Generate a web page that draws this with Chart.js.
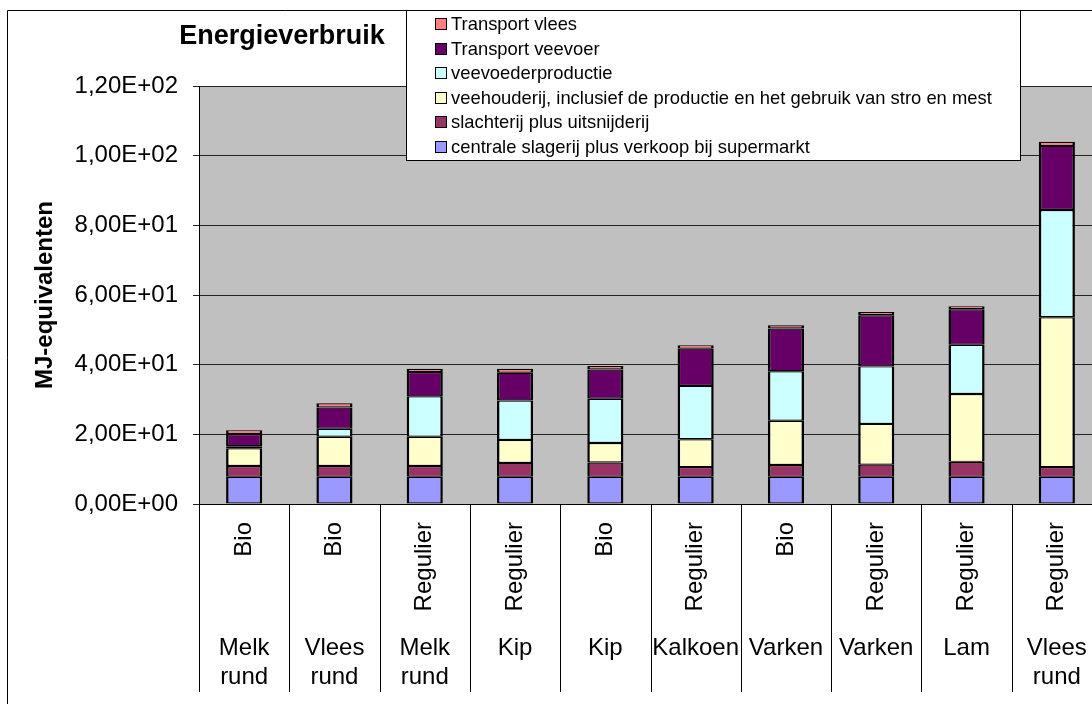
<!DOCTYPE html>
<html>
<head>
<meta charset="utf-8">
<script src="https://cdn.jsdelivr.net/npm/chart.js@4.4.0/dist/chart.umd.min.js"></script>
<style>
    html, body { margin: 0; padding: 0; background: #fff; overflow: hidden; }
    #energie { display: block; }
</style>
</head>
<body>
<canvas id="energie" width="1120" height="704"></canvas>
<script>
// categories (upper line rotated, lower line horizontal)
const types = ['Bio', 'Bio', 'Regulier', 'Regulier', 'Bio', 'Regulier', 'Bio', 'Regulier', 'Regulier', 'Regulier'];
const animals = [['Melk', 'rund'], ['Vlees', 'rund'], ['Melk', 'rund'], ['Kip'], ['Kip'], ['Kalkoen'], ['Varken'], ['Varken'], ['Lam'], ['Vlees', 'rund']];

// series, bottom to top (MJ-equivalenten)
const centraleSlagerij = [7.8, 7.8, 7.8, 7.8, 7.8, 7.8, 7.8, 7.8, 7.8, 7.8];
const slachterij = [3.1, 3.1, 3.1, 4.0, 4.1, 2.8, 3.4, 3.5, 4.3, 2.8];
const veehouderij = [5.1, 8.4, 8.4, 6.6, 5.6, 8.0, 12.7, 11.7, 19.5, 43.0];
const veevoederproductie = [0.6, 2.3, 11.6, 11.3, 12.7, 15.3, 14.2, 16.5, 14.1, 30.8];
const transportVeevoer = [3.5, 6.1, 7.0, 8.0, 8.4, 10.7, 12.3, 14.7, 10.2, 18.4];
const transportVlees = [1.1, 1.2, 0.9, 1.1, 1.0, 1.0, 0.9, 0.9, 0.9, 1.2];

// y axis ticks
const yMin = 0;
const yMax = 120;
const yStep = 20;

const FONT = "'Liberation Sans', Arial, sans-serif";

function formatSci(v) {
    if (v === 0) {
        return '0,00E+00';
    }
    let e = Math.floor(Math.log10(v) + 1e-9);
    let m = v / Math.pow(10, e);
    return m.toFixed(2).replace('.', ',') + 'E' + (e < 0 ? '-' : '+') + String(Math.abs(e)).padStart(2, '0');
}

function makeSet(label, data, color) {
    return {
        label: label,
        data: data,
        backgroundColor: color,
        borderColor: '#000',
        borderWidth: {top: 1.2, bottom: 1.2, left: 2.5, right: 2.5},
        borderSkipped: false,
        barPercentage: 0.4,
        categoryPercentage: 1
    };
}

const excelLook = {
    id: 'excelLook',
    beforeDraw(chart) {
        let ctx = chart.ctx;
        let a = chart.chartArea;
        ctx.save();
        ctx.fillStyle = '#fff';
        ctx.fillRect(0, 0, chart.width, chart.height);
        ctx.fillStyle = '#c0c0c0';
        ctx.fillRect(a.left, a.top, a.right - a.left, a.bottom - a.top);
        ctx.restore();
    },
    afterDraw(chart) {
        let ctx = chart.ctx;
        let a = chart.chartArea;
        let x = chart.scales.x;
        let n = chart.data.labels.length;
        let w = (a.right - a.left) / n;
        ctx.save();

        // outer frame
        ctx.strokeStyle = '#000';
        ctx.lineWidth = 1;
        ctx.beginPath();
        ctx.moveTo(7.5, chart.height);
        ctx.lineTo(7.5, 10.5);
        ctx.lineTo(chart.width, 10.5);
        ctx.stroke();

        // category axis line and dividers
        ctx.beginPath();
        ctx.moveTo(a.left, Math.round(a.bottom) + 0.5);
        ctx.lineTo(a.right, Math.round(a.bottom) + 0.5);
        for (let i = 0; i <= n; i++) {
            let px = Math.round(a.left + i * w) + 0.5;
            ctx.moveTo(px, a.bottom);
            ctx.lineTo(px, 692);
        }
        ctx.stroke();

        // category labels
        ctx.fillStyle = '#000';
        ctx.font = `24px ${FONT}`;
        for (let i = 0; i < n; i++) {
            let cx = x.getPixelForValue(i);
            ctx.save();
            ctx.translate(cx, 522);
            ctx.rotate(-Math.PI / 2);
            ctx.textAlign = 'right';
            ctx.textBaseline = 'middle';
            ctx.fillText(types[i], 0, 0);
            ctx.restore();
            ctx.textAlign = 'center';
            ctx.textBaseline = 'middle';
            animals[i].forEach((line, j) => {
                ctx.fillText(line, cx, 648 + j * 29);
            });
        }

        // chart title
        ctx.font = `bold 27px ${FONT}`;
        ctx.textAlign = 'center';
        ctx.textBaseline = 'alphabetic';
        ctx.fillText('Energieverbruik', 282, 44);

        // legend box (top series first)
        ctx.fillStyle = '#fff';
        ctx.fillRect(406.5, 10.5, 614, 150);
        ctx.strokeStyle = '#000';
        ctx.strokeRect(406.5, 10.5, 614, 150);
        ctx.font = `18.4px ${FONT}`;
        ctx.textAlign = 'left';
        ctx.textBaseline = 'middle';
        let sets = chart.data.datasets.slice().reverse();
        sets.forEach((ds, i) => {
            let cy = 24 + i * 24.6;
            ctx.fillStyle = ds.backgroundColor;
            ctx.fillRect(435, Math.round(cy) - 5, 11, 11);
            ctx.strokeStyle = '#000';
            ctx.strokeRect(435.5, Math.round(cy) - 5.5, 11, 11);
            ctx.fillStyle = '#000';
            ctx.fillText(ds.label, 451, cy + 1);
        });
        ctx.restore();
    }
};

const data = {
    labels: types.map((t, i) => t + ' ' + animals[i].join(' ')),
    datasets: [
        makeSet('centrale slagerij plus verkoop bij supermarkt', centraleSlagerij, '#9999ff'),
        makeSet('slachterij plus uitsnijderij', slachterij, '#993366'),
        makeSet('veehouderij, inclusief de productie en het gebruik van stro en mest', veehouderij, '#ffffcc'),
        makeSet('veevoederproductie', veevoederproductie, '#ccffff'),
        makeSet('Transport veevoer', transportVeevoer, '#660066'),
        makeSet('Transport vlees', transportVlees, '#ff8080')
    ]
};

const config = {
    type: 'bar',
    data: data,
    plugins: [excelLook],
    options: {
        responsive: false,
        animation: false,
        events: [],
        layout: {
            padding: {left: 0, top: 86, right: 18, bottom: 200}
        },
        scales: {
            x: {
                stacked: true,
                display: false
            },
            y: {
                stacked: true,
                min: yMin,
                max: yMax,
                afterFit(scale) {
                    scale.width = 199;
                },
                ticks: {
                    stepSize: yStep,
                    padding: 15,
                    color: '#000',
                    font: {family: FONT, size: 24},
                    callback: (v) => formatSci(v)
                },
                grid: {
                    color: '#222',
                    lineWidth: 1,
                    tickLength: 6
                },
                border: {
                    color: '#000',
                    width: 1
                },
                title: {
                    display: true,
                    text: 'MJ-equivalenten',
                    color: '#000',
                    font: {family: FONT, size: 24, weight: 'bold'},
                    padding: {top: 31, bottom: 0}
                }
            }
        },
        plugins: {
            legend: {display: false},
            tooltip: {enabled: false}
        }
    }
};

const energieChart = new Chart(document.getElementById('energie'), config);
</script>
</body>
</html>
